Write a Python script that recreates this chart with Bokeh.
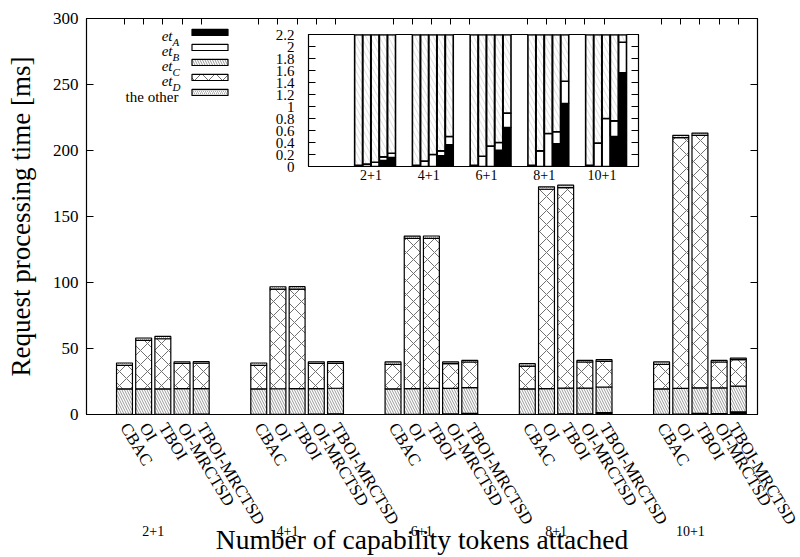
from bokeh.plotting import figure
from bokeh.models import (ColumnDataSource, Range1d, LinearAxis, FixedTicker,
                          Legend, LegendItem, Label, NumeralTickFormatter)
from bokeh.embed import file_html
from bokeh.resources import INLINE

# ---------------- data (ms) ----------------
groups = ["2+1", "4+1", "6+1", "8+1", "10+1"]
methods = ["CBAC", "OI", "TBOI", "OI-MRCTSD", "TBOI-MRCTSD"]

et_A = [
    [0.00, 0.00, 0.00, 0.10, 0.15],
    [0.00, 0.00, 0.00, 0.18, 0.36],
    [0.00, 0.00, 0.00, 0.27, 0.65],
    [0.00, 0.00, 0.00, 0.38, 1.05],
    [0.00, 0.00, 0.00, 0.50, 1.56],
]
et_B = [
    [0.02, 0.04, 0.07, 0.06, 0.07],
    [0.02, 0.09, 0.20, 0.08, 0.14],
    [0.02, 0.17, 0.34, 0.13, 0.24],
    [0.02, 0.26, 0.55, 0.20, 0.37],
    [0.02, 0.39, 0.80, 0.26, 0.51],
]
et_C = [
    [19.4, 19.4, 19.4, 19.4, 19.4],
    [19.4, 19.4, 19.4, 19.4, 19.4],
    [19.4, 19.4, 19.4, 19.4, 19.4],
    [19.4, 19.4, 19.4, 19.4, 19.4],
    [19.4, 19.4, 19.4, 19.4, 19.4],
]
et_D = [
    [17.8, 36.7, 37.9, 19.2, 19.2],
    [17.8, 75.5, 75.4, 19.1, 18.9],
    [18.6, 113.8, 113.7, 18.8, 19.5],
    [17.3, 151.0, 152.0, 19.8, 19.5],
    [18.6, 189.9, 191.2, 19.6, 20.1],
]
the_other = [
    [1.8, 1.8, 1.8, 1.2, 1.2],
    [1.8, 1.8, 1.8, 1.2, 1.2],
    [1.8, 1.8, 1.8, 1.2, 1.2],
    [1.8, 1.8, 1.8, 1.2, 1.2],
    [1.8, 1.8, 1.8, 1.2, 1.2],
]
legend_main = ["et", "et", "et", "et", "the other"]
legend_sub = ["A", "B", "C", "D", ""]

y_ticks = [0, 50, 100, 150, 200, 250, 300]
inset_ticks = [0, 0.2, 0.4, 0.6, 0.8, 1.0, 1.2, 1.4, 1.6, 1.8, 2.0, 2.2]

FONT = "Liberation Serif"
SLOT = 7  # 5 bars + 2 empty slots per group

data = dict(x=[], A=[], B=[], C=[], D=[], O=[])
method_overrides = {}
for g in range(len(groups)):
    for i in range(len(methods)):
        xx = g * SLOT + i
        data["x"].append(xx)
        data["A"].append(et_A[g][i])
        data["B"].append(et_B[g][i])
        data["C"].append(et_C[g][i])
        data["D"].append(et_D[g][i])
        data["O"].append(the_other[g][i])
        method_overrides[xx] = methods[i]
group_pos = [g * SLOT + 1.5 for g in range(len(groups))]
group_overrides = {gp: groups[k] for k, gp in enumerate(group_pos)}

src = ColumnDataSource(data)
stackers = ["A", "B", "C", "D", "O"]
style_main = dict(
    fill_color=["black", "white", "white", "white", "white"],
    hatch_pattern=[None, None, "\\", "x", "/"],
    hatch_color=["black", "black", "#9a9a9a", "#707070", "#9a9a9a"],
    hatch_scale=[6, 6, 5, 14, 4],
    hatch_weight=[1, 1, 1, 1, 0.8],
)
style_inset = dict(
    fill_color=["black", "white", "white", "white", "white"],
    hatch_pattern=[None, None, "\\", "x", "/"],
    hatch_color=["black", "black", "#c8c8c8", "#707070", "#9a9a9a"],
    hatch_scale=[6, 6, 9, 14, 4],
    hatch_weight=[1, 1, 0.6, 1, 0.8],
)


def base_axis(ax, size="17px"):
    ax.axis_line_color = "black"
    ax.major_tick_line_color = "black"
    ax.minor_tick_line_color = None
    ax.major_label_text_font = FONT
    ax.major_label_text_font_size = size
    ax.major_label_text_color = "black"
    ax.major_label_text_font_style = "normal"
    ax.axis_label_text_font = FONT
    ax.axis_label_text_font_style = "normal"
    ax.axis_label_text_color = "black"
    return ax


def mirror_axis(ticks, tick_len):
    ax = base_axis(LinearAxis(ticker=FixedTicker(ticks=ticks, minor_ticks=[])))
    ax.major_tick_in = tick_len
    ax.major_tick_out = 0
    ax.major_label_text_font_size = "1px"
    ax.major_label_text_color = None
    ax.major_label_standoff = 0
    return ax


# ---------------- main figure ----------------
p = figure(width=800, height=557, x_range=Range1d(-1.98, 33.0), y_range=Range1d(0, 300),
           output_backend="svg", toolbar_location=None,
           x_axis_location=None, y_axis_location=None,
           min_border_left=86, min_border_right=43, min_border_top=18, min_border_bottom=142)
p.xgrid.visible = False
p.ygrid.visible = False
p.outline_line_color = "black"
p.outline_line_width = 1.2

rs = p.vbar_stack(stackers, x="x", width=0.83, source=src, line_color="black",
                  line_width=1.2, **style_main)

yl = base_axis(LinearAxis(ticker=FixedTicker(ticks=y_ticks, minor_ticks=[])))
yl.major_tick_in = 7
yl.major_tick_out = 0
yl.major_label_standoff = 8
yl.axis_label = "Request processing time [ms]"
yl.axis_label_text_font_size = "27px"
yl.axis_label_standoff = 14
p.add_layout(yl, "left")

p.add_layout(mirror_axis(y_ticks, 7), "right")
p.add_layout(mirror_axis(data["x"], 6), "above")

xb = base_axis(LinearAxis(ticker=FixedTicker(ticks=data["x"], minor_ticks=[])), "17px")
xb.major_tick_in = 0
xb.major_tick_out = 0
xb.major_label_overrides = method_overrides
xb.major_label_orientation = -1.03
xb.major_label_standoff = 10
p.add_layout(xb, "below")

xg = base_axis(LinearAxis(ticker=FixedTicker(ticks=group_pos, minor_ticks=[])), "14px")
xg.axis_line_color = None
xg.major_tick_line_color = None
xg.major_label_overrides = group_overrides
xg.major_label_standoff = -17
xg.axis_label = "Number of capability tokens attached"
xg.axis_label_text_font_size = "27.5px"
xg.axis_label_standoff = -15
p.add_layout(xg, "below")

legend = Legend(items=[LegendItem(label=" ", renderers=[r]) for r in rs],
                location=(101, 318), orientation="vertical",
                glyph_width=45, glyph_height=8, label_height=8, label_width=0,
                label_standoff=0, label_text_font_size="1px", label_text_color=None,
                spacing=7, padding=0, margin=0, border_line_alpha=0,
                background_fill_alpha=0)
p.add_layout(legend)

for k in range(len(legend_main)):
    yc = 382 - 15 * k  # row centre, screen px above frame bottom
    if legend_sub[k]:
        p.add_layout(Label(x=86, y=yc - 3.5, x_units="screen", y_units="screen",
                           text=legend_main[k], text_align="right", text_baseline="alphabetic",
                           text_font=FONT, text_font_style="italic", text_font_size="15px",
                           text_color="black"))
        p.add_layout(Label(x=86, y=yc - 9, x_units="screen", y_units="screen",
                           text=legend_sub[k], text_align="left", text_baseline="alphabetic",
                           text_font=FONT, text_font_style="italic", text_font_size="11px",
                           text_color="black"))
    else:
        p.add_layout(Label(x=92, y=yc - 4, x_units="screen", y_units="screen",
                           text=legend_main[k], text_align="right", text_baseline="alphabetic",
                           text_font=FONT, text_font_size="15px", text_color="black"))

p.styles = {"position": "absolute", "left": "0px", "top": "0px"}

# ---------------- inset figure ----------------
q = figure(width=380, height=165, x_range=Range1d(-6.07, 33.93), y_range=Range1d(0, 2.2),
           output_backend="svg", toolbar_location=None,
           x_axis_location=None, y_axis_location=None,
           min_border_left=44, min_border_right=6, min_border_top=6, min_border_bottom=27)
q.xgrid.visible = False
q.ygrid.visible = False
q.outline_line_color = "black"
q.outline_line_width = 1.2
q.background_fill_color = "white"
q.border_fill_alpha = 0
q.vbar_stack(stackers, x="x", width=0.95, source=src, line_color="black",
             line_width=1.6, **style_inset)

il = base_axis(LinearAxis(ticker=FixedTicker(ticks=inset_ticks, minor_ticks=[])), "15px")
il.formatter = NumeralTickFormatter(format="0.[0]")
il.major_tick_in = 7
il.major_tick_out = 0
il.major_label_standoff = 14
q.add_layout(il, "left")

q.add_layout(mirror_axis(inset_ticks, 7), "right")

ib = base_axis(LinearAxis(ticker=FixedTicker(ticks=group_pos, minor_ticks=[])), "14px")
ib.major_tick_in = 0
ib.major_tick_out = 0
ib.major_label_overrides = group_overrides
ib.major_label_standoff = 3
q.add_layout(ib, "below")

q.styles = {"position": "absolute", "left": "264px", "top": "28px"}

open("out.html", "w").write(file_html([p, q], INLINE))
